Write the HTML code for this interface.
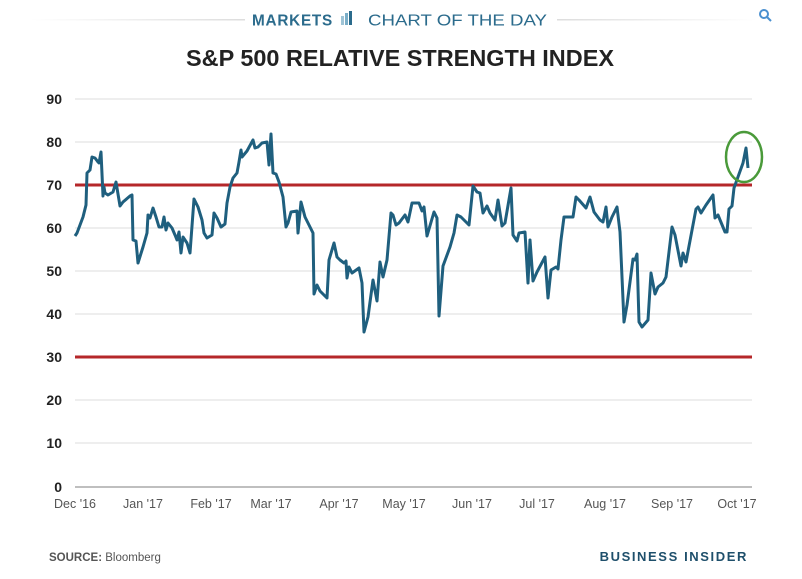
<!DOCTYPE html>
<html><head><meta charset="utf-8"><style>
html,body{margin:0;padding:0;background:#fff;}
body{width:802px;height:574px;overflow:hidden;}
</style></head><body>
<svg width="802" height="574" viewBox="0 0 802 574" xmlns="http://www.w3.org/2000/svg" font-family="'Liberation Sans', sans-serif">
<defs>
<linearGradient id="lg" x1="0" x2="1"><stop offset="0" stop-color="#fff"/><stop offset="1" stop-color="#ddd"/></linearGradient>
<linearGradient id="rg" x1="0" x2="1"><stop offset="0" stop-color="#ddd"/><stop offset="1" stop-color="#fff"/></linearGradient>
</defs>
<rect x="30" y="19" width="215" height="1.5" fill="url(#lg)"/>
<rect x="557" y="19" width="200" height="1.5" fill="url(#rg)"/>
<text x="252" y="25.5" font-size="16" font-weight="bold" fill="#2b6b8c" letter-spacing="0.8" textLength="81" lengthAdjust="spacingAndGlyphs">MARKETS</text>
<rect x="341" y="16" width="3" height="9" fill="#9fc4d6"/><rect x="345" y="13" width="3" height="12" fill="#7aaec8"/><rect x="349" y="11" width="3" height="14" fill="#2b6b8c"/>
<text x="368" y="25.5" font-size="16" fill="#2b6b8c" textLength="179" lengthAdjust="spacingAndGlyphs">CHART OF THE DAY</text>
<circle cx="764" cy="14" r="4" fill="none" stroke="#4a90d0" stroke-width="2"/><line x1="767" y1="17" x2="771" y2="21" stroke="#4a90d0" stroke-width="2"/>
<text x="186" y="66" font-size="23" font-weight="bold" fill="#222" textLength="428" lengthAdjust="spacingAndGlyphs">S&amp;P 500 RELATIVE STRENGTH INDEX</text>
<g stroke="#e3e3e3" stroke-width="1.2">
<line x1="75" x2="752" y1="99" y2="99"/><line x1="75" x2="752" y1="142" y2="142"/><line x1="75" x2="752" y1="228" y2="228"/><line x1="75" x2="752" y1="271" y2="271"/><line x1="75" x2="752" y1="314" y2="314"/><line x1="75" x2="752" y1="400" y2="400"/><line x1="75" x2="752" y1="443" y2="443"/>
</g>
<line x1="75" x2="752" y1="487" y2="487" stroke="#aaa" stroke-width="1.5"/>
<line x1="75" x2="752" y1="185" y2="185" stroke="#b5272a" stroke-width="3"/>
<line x1="75" x2="752" y1="357" y2="357" stroke="#b5272a" stroke-width="3"/>
<g font-size="14" font-weight="bold" fill="#222" text-anchor="end">
<text x="62" y="104">90</text><text x="62" y="147">80</text><text x="62" y="190">70</text><text x="62" y="233">60</text><text x="62" y="276">50</text><text x="62" y="319">40</text><text x="62" y="362">30</text><text x="62" y="405">20</text><text x="62" y="448">10</text><text x="62" y="492">0</text>
</g>
<g font-size="12.5" fill="#555" text-anchor="middle">
<text x="75" y="508">Dec '16</text><text x="143" y="508">Jan '17</text><text x="211" y="508">Feb '17</text><text x="271" y="508">Mar '17</text><text x="339" y="508">Apr '17</text><text x="404" y="508">May '17</text><text x="472" y="508">Jun '17</text><text x="537" y="508">Jul '17</text><text x="605" y="508">Aug '17</text><text x="672" y="508">Sep '17</text><text x="737" y="508">Oct '17</text>
</g>
<polyline fill="none" stroke="#1f5f7e" stroke-width="3" stroke-linejoin="round" points="75,236 77,233 83,217 86,205 87,173 90,170 92,157 95,158 98,162 99,163 101,152 103,196 104,187 105,193 108,195 113,192 116,182 117,188 120,206 123,202 130,196 132,195 133,240 136,241 138,263 143,247 147,233 148,215 150,218 153,208 156,217 159,227 162,227 164,217 166,230 168,223 172,228 175,235 177,240 179,232 181,253 183,237 187,243 190,253 194,199 198,207 202,220 204,233 207,238 212,235 214,213 217,218 221,227 225,224 227,203 230,187 233,178 237,173 239,162 241,150 242,157 247,151 253,140 255,148 258,147 262,143 267,142 269,165 271,134 273,173 276,174 279,182 283,197 286,227 288,223 291,212 297,211 298,233 301,202 305,217 308,223 313,233 314,294 317,285 320,291 327,298 329,260 334,243 337,257 340,260 344,263 346,261 347,278 349,267 352,273 359,268 362,283 364,332 368,317 373,280 377,301 380,262 383,277 387,260 391,213 393,215 396,225 399,223 405,215 408,222 412,203 419,203 422,211 424,207 427,236 434,212 437,218 439,316 443,266 450,247 454,233 457,215 461,217 469,225 473,186 477,192 480,193 483,213 487,206 490,213 495,220 498,200 502,226 505,223 511,188 513,235 517,241 519,233 525,232 528,283 530,240 533,281 537,272 545,257 548,298 551,270 556,267 558,269 561,240 564,217 573,217 576,197 579,200 586,208 590,197 594,212 600,220 603,222 606,207 608,227 612,217 617,207 620,232 624,322 627,305 633,259 635,260 637,254 639,322 642,327 648,320 651,273 655,294 658,287 663,283 666,277 672,227 675,235 681,266 683,253 686,262 696,209 698,207 701,213 706,205 713,195 715,218 718,215 725,232 727,232 729,209 732,206 734,188 743,163 746,148 748,168"/>
<ellipse cx="744" cy="157" rx="18" ry="25" fill="none" stroke="#4a9a3a" stroke-width="2.5"/>
<text x="49" y="561" font-size="11.5" fill="#555"><tspan font-weight="bold">SOURCE:</tspan> Bloomberg</text>
<text x="748" y="561" font-size="13" font-weight="bold" fill="#1e4f6b" text-anchor="end" letter-spacing="1.6">BUSINESS INSIDER</text>
</svg>
</body></html>
